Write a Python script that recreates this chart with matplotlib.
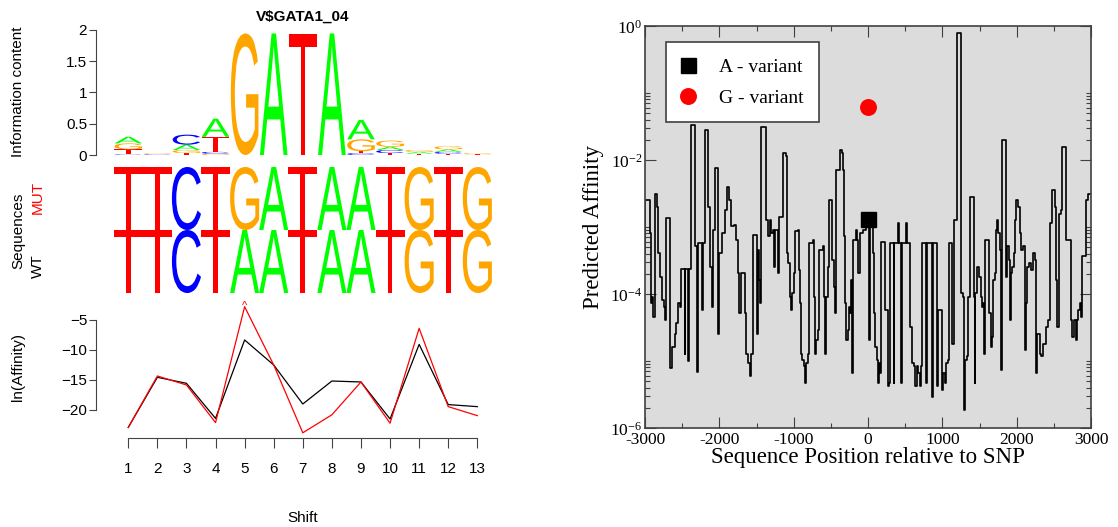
import matplotlib
matplotlib.use('Agg')
import matplotlib.pyplot as plt
import numpy as np
from matplotlib.textpath import TextPath
from matplotlib.patches import PathPatch
from matplotlib.font_manager import FontProperties
from matplotlib.transforms import Affine2D
from matplotlib.lines import Line2D
from matplotlib.ticker import FixedLocator, NullFormatter

plt.rcParams['font.family'] = 'Liberation Sans'
plt.rcParams['mathtext.fontset'] = 'custom'
plt.rcParams['mathtext.rm'] = 'Liberation Serif'
plt.rcParams['mathtext.it'] = 'Liberation Serif:italic'

W, H = 1118, 527

# ---- left panel data ----
title = 'V$GATA1_04'
logo_letters = ['CTGA', 'CTG', 'TGAC', 'GCTA', 'G', 'A', 'T', 'A', 'CTGA', 'TCAG', 'TAG', 'TCAG', 'TG']
logo_heights = [[0.01, 0.08, 0.095, 0.106], [0.01, 0.01, 0.01], [0.03, 0.05, 0.085, 0.16],
                [0.02, 0.03, 0.24, 0.29], [1.94], [1.94], [1.93], [1.94],
                [0.03, 0.03, 0.19, 0.31], [0.03, 0.05, 0.05, 0.10], [0.02, 0.03, 0.03],
                [0.02, 0.03, 0.04, 0.05], [0.01, 0.02]]
seq_mut = 'TTCTGATAATGTG'
seq_wt = 'TTCTAATAATGTG'
shifts = list(range(1, 14))
ln_aff_wt = [-22.9, -14.55, -15.55, -21.4, -8.33, -12.5, -19.0, -15.17, -15.33, -21.5, -9.06, -19.1, -19.44]
ln_aff_mut = [-22.9, -14.33, -15.83, -22.1, -2.78, -12.5, -23.8, -20.8, -15.33, -22.2, -6.39, -19.44, -20.94]
base_colors = {'A': '#00ff00', 'C': '#0000ff', 'G': '#ffa500', 'T': '#ff0000'}

# ---- right panel data (position relative to SNP, log10 predicted affinity) ----
positions = [-3000, -2997, -2948, -2939, -2926, -2908, -2894, -2872, -2840, -2827, -2804, -2773, -2746, -2728,
             -2715, -2670, -2661, -2638, -2603, -2580, -2558, -2535, -2513, -2468, -2459, -2423, -2414,
             -2378, -2324, -2298, -2284, -2230, -2217, -2199, -2149, -2127, -2105, -2087, -2064, -2015,
             -2001, -1966, -1930, -1902, -1876, -1840, -1800, -1782, -1750, -1732, -1714, -1656, -1638,
             -1616, -1593, -1571, -1548, -1503, -1494, -1481, -1467, -1454, -1436, -1378, -1369, -1346,
             -1324, -1301, -1279, -1265, -1252, -1216, -1198, -1153, -1144, -1099, -1090, -1072, -1055,
             -1037, -1019, -1001, -987, -947, -933, -920, -906, -884, -866, -853, -830, -808, -794, -741,
             -732, -718, -705, -673, -660, -606, -597, -584, -561, -539, -525, -489, -480, -462, -449,
             -435, -391, -373, -346, -332, -323, -310, -292, -270, -256, -238, -225, -216, -202, -166,
             -144, -130, -112, -67, -23, 13, 27, 54, 67, 81, 99, 121, 135, 148, 166, 179, 220, 224, 260,
             269, 287, 292, 341, 345, 354, 399, 404, 417, 444, 449, 462, 502, 507, 520, 556, 561, 592,
             597, 619, 637, 655, 673, 695, 709, 722, 772, 781, 794, 861, 866, 879, 920, 929, 942, 987,
             996, 1014, 1032, 1050, 1077, 1090, 1126, 1135, 1153, 1193, 1202, 1252, 1256, 1279, 1292,
             1305, 1328, 1346, 1368, 1418, 1427, 1436, 1444, 1471, 1494, 1516, 1534, 1552, 1557, 1575,
             1629, 1633, 1651, 1660, 1674, 1683, 1705, 1718, 1736, 1754, 1772, 1786, 1799, 1844, 1853,
             1871, 1898, 1907, 1920, 1943, 1961, 1979, 1997, 2019, 2041, 2064, 2091, 2109, 2122, 2140,
             2167, 2198, 2221, 2243, 2266, 2279, 2311, 2333, 2355, 2382, 2400, 2423, 2445, 2472, 2481,
             2504, 2517, 2526, 2544, 2571, 2602, 2616, 2665, 2670, 2723, 2737, 2750, 2768, 2795, 2813,
             2831, 2849, 2871, 2885, 2920, 2938, 2961, 2993, 3000]
log_affinity = [-3.39, -2.60, -2.60, -3.09, -4.14, -4.04, -4.34, -2.50, -2.70, -3.39, -3.74, -4.09, -4.19, -4.39,
                -2.87, -2.87, -5.11, -4.79, -4.59, -4.44, -4.14, -4.19, -3.62, -4.89, -3.62, -5.00, -3.62,
                -1.48, -3.29, -5.16, -3.24, -4.24, -3.24, -1.55, -2.70, -3.59, -4.19, -3.04, -2.12, -4.59,
                -3.39, -3.09, -2.75, -2.40, -2.60, -2.99, -2.97, -3.19, -3.69, -4.29, -3.69, -4.29, -4.89,
                -5.03, -5.23, -4.89, -3.12, -3.12, -4.59, -3.34, -3.79, -4.14, -1.50, -1.55, -2.90, -3.14,
                -2.90, -3.09, -3.04, -3.59, -3.04, -3.69, -2.85, -2.85, -1.90, -1.94, -3.39, -3.54, -4.04,
                -4.24, -3.99, -3.69, -3.06, -3.04, -3.64, -4.14, -4.89, -4.98, -5.08, -5.33, -5.03, -4.89, -3.24, -3.19,
                -4.04, -4.89, -4.69, -4.54, -3.34, -3.29, -4.04, -4.89, -4.04, -3.59, -2.60, -2.60, -3.49, -3.89, -4.29,
                -2.15, -2.15, -1.85, -1.90, -2.15, -3.14, -4.14, -4.69, -4.54, -4.19, -4.29, -3.79, -5.18, -3.19, -3.04,
                -3.19, -3.69, -3.09, -3.04, -2.97, -4.69, -2.99, -2.99, -3.39, -4.29, -4.79, -4.98, -5.33, -5.03, -5.18, -3.22, -3.22, -4.24, -4.24,
                -5.38, -5.33, -3.24, -3.24, -5.33, -3.24, -3.24, -2.94, -3.24, -3.24, -5.33, -3.24, -3.24, -2.94, -3.24, -3.24, -4.49, -4.49,
                -5.03, -5.08, -5.38, -5.08, -5.18, -5.38, -5.08, -3.24, -3.24, -5.33, -3.24, -3.24, -5.53, -3.24, -3.24, -5.38, -4.24, -4.24,
                -5.43, -5.18, -5.33, -5.03, -4.98, -3.24, -3.24, -4.74, -2.90, -2.90, -0.11, -0.11, -3.99, -4.04, -5.73,
                -4.98, -4.93, -4.04, -2.55, -2.55, -4.04, -5.33, -3.99, -3.59, -3.74, -4.04, -4.19, -4.14, -4.89, -3.19,
                -3.19, -4.29, -4.39, -4.79, -4.64, -3.79, -3.69, -3.04, -2.90, -3.09, -3.34, -5.13, -1.70, -1.70, -3.74,
                -3.29, -3.49, -4.39, -3.69, -3.59, -3.39, -2.90, -2.60, -2.70, -3.09, -3.34, -3.29, -4.84, -4.14, -3.59,
                -3.54, -3.64, -3.39, -3.49, -5.18, -4.59, -4.89, -4.93, -4.74, -4.74, -4.49, -4.39, -2.94, -2.94, -2.45,
                -2.45, -2.70, -3.79, -4.49, -2.80, -2.75, -1.80, -1.80, -3.19, -3.19, -4.39, -4.64, -4.39, -4.69, -4.39,
                -4.24, -4.14, -4.34, -3.44, -3.44, -2.60, -2.50, -2.50, -2.50]
a_variant = 1.3e-3
g_variant = 0.062
xtick_vals = [-3000, -2000, -1000, 0, 1000, 2000, 3000]
ytick_vals = [1e-6, 1e-4, 1e-2, 1e0]
ytick_labels = [r'$10^{-6}$', r'$10^{-4}$', r'$10^{-2}$', r'$10^{0}$']


def px_axes(l, t, r, b):
    return fig.add_axes([l / W, 1 - b / H, (r - l) / W, (b - t) / H])


letter_font = FontProperties(family='Liberation Sans')


def draw_letter(ax, ch, x, y0, w, h, color):
    tp = TextPath((0, 0), ch, size=1, prop=letter_font)
    bb = tp.get_extents()
    tr = Affine2D().translate(-bb.x0, -bb.y0).scale(w / bb.width, h / bb.height).translate(x - w / 2, y0)
    ax.add_patch(PathPatch(tr.transform_path(tp), fc=color, ec='none', lw=0))


fig = plt.figure(figsize=(W / 100, H / 100), dpi=100)
XL = (-0.11, 13.78)
axis_col = '#444444'

# 1. sequence logo
ax1 = px_axes(96, 29.7, 500, 155)
for i, (letters, heights) in enumerate(zip(logo_letters, logo_heights)):
    y0 = 0
    for ch, h in zip(letters, heights):
        draw_letter(ax1, ch, i + 1, y0, 0.95, h, base_colors[ch])
        y0 += h
ax1.set_xlim(*XL)
ax1.set_ylim(0, 2)
for s in ['top', 'right', 'bottom']:
    ax1.spines[s].set_visible(False)
ax1.spines['left'].set_color(axis_col)
ax1.set_xticks([])
ax1.set_yticks([0, 0.5, 1, 1.5, 2])
ax1.set_yticklabels(['0', '0.5', '1', '1.5', '2'])
ax1.tick_params(axis='y', length=5.3, pad=1, labelsize=11, color=axis_col)
ax1.patch.set_visible(False)
fig.text(303 / W, 1 - 17 / H, title, ha='center', va='center', fontsize=11, fontweight='bold')
fig.text(18 / W, 1 - 92 / H, 'Information content', rotation=90, ha='center', va='center', fontsize=11)

# 2. MUT / WT sequences
ax2 = px_axes(96, 167, 500, 293)
for i, (m, w) in enumerate(zip(seq_mut, seq_wt)):
    draw_letter(ax2, m, i + 1, 1.0, 1.0, 1.0, base_colors[m])
    draw_letter(ax2, w, i + 1, 0.0, 1.0, 1.0, base_colors[w])
ax2.set_xlim(*XL)
ax2.set_ylim(0, 2)
ax2.axis('off')
fig.text(18 / W, 1 - 231 / H, 'Sequences', rotation=90, ha='center', va='center', fontsize=11)
fig.text(38 / W, 1 - 197 / H, 'MUT', rotation=90, ha='center', va='center', fontsize=11, color='red')
fig.text(38 / W, 1 - 266 / H, 'WT', rotation=90, ha='center', va='center', fontsize=11)
fig.text(245 / W, 1 - 306 / H, '^', ha='center', va='center', fontsize=8, color='red')

# 3. ln(affinity) per shift
ax3 = px_axes(96, 300, 500, 438)
ax3.plot(shifts, ln_aff_wt, color='black', lw=0.9, clip_on=False)
ax3.plot(shifts, ln_aff_mut, color='red', lw=0.9, clip_on=False)
ax3.set_xlim(*XL)
ax3.set_ylim(-24.667, -1.667)
ax3.spines['top'].set_visible(False)
ax3.spines['right'].set_visible(False)
ax3.spines['left'].set_bounds(-20, -5)
ax3.spines['bottom'].set_bounds(1, 13)
ax3.spines['left'].set_color(axis_col)
ax3.spines['bottom'].set_color(axis_col)
ax3.set_xticks(shifts)
ax3.set_yticks([-20, -15, -10, -5])
ax3.tick_params(axis='y', length=5.3, pad=1, labelsize=11, color=axis_col)
ax3.tick_params(axis='x', length=7.2, pad=10, labelsize=11, color=axis_col)
ax3.patch.set_visible(False)
fig.text(18 / W, 1 - 367 / H, 'ln(Affinity)', rotation=90, ha='center', va='center', fontsize=11)
fig.text(303 / W, 1 - 518 / H, 'Shift', ha='center', va='center', fontsize=11)

# 4. predicted affinity along the sequence
frame_col = '#404040'
ax4 = px_axes(645, 26, 1091, 428)
ax4.set_facecolor('#dcdcdc')
ax4.plot(positions, 10 ** np.array(log_affinity), drawstyle='steps-post', color='black', lw=1.2)
ax4.plot([0], [a_variant], 's', ms=10.8, color='black', zorder=5)
ax4.plot([0], [g_variant], 'o', ms=12.2, color='red', mec='none', zorder=5)
ax4.set_yscale('log')
ax4.set_xlim(-3000, 3000)
ax4.set_ylim(1e-6, 1)
ax4.xaxis.set_major_locator(FixedLocator(xtick_vals))
ax4.xaxis.set_minor_locator(FixedLocator([v + 500 for v in xtick_vals[:-1]]))
ax4.set_xticklabels([str(v) for v in xtick_vals], fontfamily='Liberation Serif', fontsize=12.5)
ax4.yaxis.set_major_locator(FixedLocator(ytick_vals))
ax4.yaxis.set_minor_locator(FixedLocator([a * 10.0 ** e for e in (-6, -4, -2) for a in range(2, 11)]))
ax4.yaxis.set_minor_formatter(NullFormatter())
ax4.set_yticklabels(ytick_labels, fontsize=12.5)
ax4.tick_params(which='both', direction='in', top=True, right=True, color=frame_col, width=0.8)
ax4.tick_params(which='major', length=7.9)
ax4.tick_params(which='minor', length=3.6)
ax4.tick_params(axis='x', pad=3)
ax4.tick_params(axis='y', pad=2)
for s in ax4.spines.values():
    s.set_color(frame_col)
    s.set_linewidth(1.2)
fig.text(868 / W, 1 - 458 / H, 'Sequence Position relative to SNP', ha='center', va='center',
         fontsize=16.5, fontfamily='Liberation Serif')
fig.text(594 / W, 1 - 227 / H, 'Predicted Affinity', rotation=90, ha='center', va='center',
         fontsize=16.5, fontfamily='Liberation Serif')

handles = [Line2D([], [], ls='none', marker='s', ms=10.8, color='black'),
           Line2D([], [], ls='none', marker='o', ms=12.2, color='red', mec='none')]
leg = ax4.legend(handles, ['A - variant', 'G - variant'], loc='upper left', bbox_to_anchor=(0.046, 0.959),
                 borderaxespad=0, fancybox=False, framealpha=1, edgecolor=frame_col,
                 prop={'family': 'Liberation Serif', 'size': 14}, handlelength=0.75, handletextpad=1.2,
                 borderpad=0.8, labelspacing=0.7)
leg.get_frame().set_linewidth(1.2)

fig.savefig('out.png', dpi=100)
